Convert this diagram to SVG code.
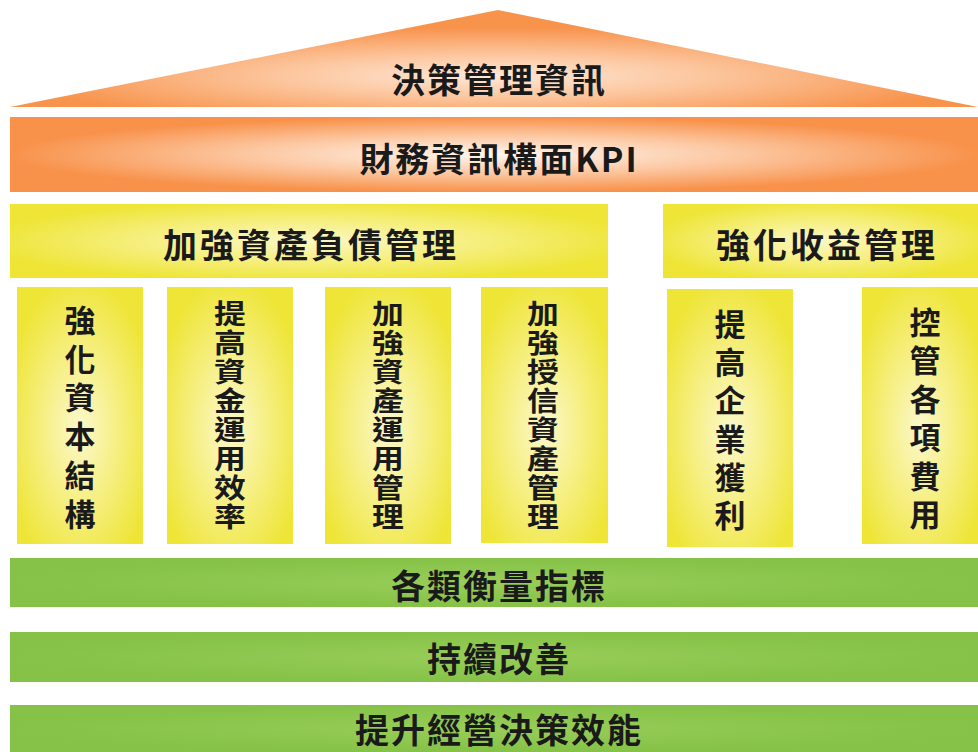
<svg xmlns="http://www.w3.org/2000/svg" width="978" height="752" viewBox="0 0 978 752">
<defs>
<radialGradient id="gRoof" cx="0.5" cy="0.68" r="0.5">
<stop offset="0" stop-color="#fee8d8"/>
<stop offset="0.45" stop-color="#fcc59c"/>
<stop offset="1" stop-color="#f8934c"/>
</radialGradient>
<radialGradient id="gOrange" cx="0.5" cy="0.5" r="0.5">
<stop offset="0" stop-color="#fff6ef"/>
<stop offset="0.5" stop-color="#fcc8a2"/>
<stop offset="1" stop-color="#f8924b"/>
</radialGradient>
<radialGradient id="gYellow" cx="0.5" cy="0.5" r="0.55">
<stop offset="0" stop-color="#fbf7c6"/>
<stop offset="0.55" stop-color="#f5ee78"/>
<stop offset="1" stop-color="#eee536"/>
</radialGradient>
<radialGradient id="gPillar" cx="0.5" cy="0.55" r="0.6">
<stop offset="0" stop-color="#fbf8cc"/>
<stop offset="0.5" stop-color="#f6ef82"/>
<stop offset="1" stop-color="#eee537"/>
</radialGradient>
<radialGradient id="gGreen" cx="0.5" cy="0.5" r="0.5">
<stop offset="0" stop-color="#98cd58"/>
<stop offset="1" stop-color="#85c247"/>
</radialGradient>
</defs>
<style>
text{font-family:"Noto Sans CJK TC","Noto Sans CJK SC",sans-serif;font-weight:700;fill:#1a1a1a;text-anchor:middle;dominant-baseline:central}
.big{font-size:34px;letter-spacing:2px}
.col{font-size:31px}
.tight{font-size:27px}
.roof{fill:url(#gRoof)}
.band{fill:url(#gOrange)}
.head{fill:url(#gYellow)}
.pillar{fill:url(#gPillar)}
.green{fill:url(#gGreen)}
</style>
<rect width="978" height="752" fill="#ffffff"/>
<g id="roof">
<polygon class="roof" points="10,107 498,10 978,107"/>
<text class="big" x="499" y="78">決策管理資訊</text>
</g>
<g id="kpi">
<rect class="band" x="10" y="117" width="968" height="75"/>
<text class="big" x="499" y="157">財務資訊構面KPI</text>
</g>
<g id="asset-liability">
<rect class="head" x="10" y="204" width="598" height="74"/>
<text class="big" x="311" y="243" style="letter-spacing:3px">加強資產負債管理</text>
</g>
<g id="revenue">
<rect class="head" x="663" y="204" width="315" height="74"/>
<text class="big" x="827" y="243" style="letter-spacing:3px">強化收益管理</text>
</g>
<g id="pillar1">
<rect class="pillar" x="17" y="287" width="126" height="257"/>
<text class="col"><tspan x="80" y="318">強</tspan><tspan x="80" y="357">化</tspan><tspan x="80" y="395">資</tspan><tspan x="80" y="434">本</tspan><tspan x="80" y="473">結</tspan><tspan x="80" y="512">構</tspan></text>
</g>
<g id="pillar2">
<rect class="pillar" x="167" y="287" width="126" height="257"/>
<g transform="translate(230,0) scale(1.18,1)">
<text class="tight"><tspan x="0" y="312">提</tspan><tspan x="0" y="341">高</tspan><tspan x="0" y="370">資</tspan><tspan x="0" y="399">金</tspan><tspan x="0" y="428">運</tspan><tspan x="0" y="457">用</tspan><tspan x="0" y="486">效</tspan><tspan x="0" y="515">率</tspan></text>
</g>
</g>
<g id="pillar3">
<rect class="pillar" x="325" y="287" width="126" height="257"/>
<g transform="translate(388,0) scale(1.18,1)">
<text class="tight"><tspan x="0" y="312">加</tspan><tspan x="0" y="341">強</tspan><tspan x="0" y="370">資</tspan><tspan x="0" y="399">產</tspan><tspan x="0" y="428">運</tspan><tspan x="0" y="457">用</tspan><tspan x="0" y="486">管</tspan><tspan x="0" y="515">理</tspan></text>
</g>
</g>
<g id="pillar4">
<rect class="pillar" x="481" y="287" width="127" height="256"/>
<g transform="translate(543,0) scale(1.18,1)">
<text class="tight"><tspan x="0" y="312">加</tspan><tspan x="0" y="341">強</tspan><tspan x="0" y="370">授</tspan><tspan x="0" y="399">信</tspan><tspan x="0" y="428">資</tspan><tspan x="0" y="457">產</tspan><tspan x="0" y="486">管</tspan><tspan x="0" y="515">理</tspan></text>
</g>
</g>
<g id="pillar5">
<rect class="pillar" x="667" y="289" width="126" height="258"/>
<text class="col"><tspan x="730" y="322">提</tspan><tspan x="730" y="360">高</tspan><tspan x="730" y="398">企</tspan><tspan x="730" y="437">業</tspan><tspan x="730" y="475">獲</tspan><tspan x="730" y="513">利</tspan></text>
</g>
<g id="pillar6">
<rect class="pillar" x="862" y="287" width="116" height="257"/>
<text class="col"><tspan x="925" y="320">控</tspan><tspan x="925" y="358">管</tspan><tspan x="925" y="397">各</tspan><tspan x="925" y="435">項</tspan><tspan x="925" y="474">費</tspan><tspan x="925" y="512">用</tspan></text>
</g>
<g id="measures">
<rect class="green" x="10" y="558" width="968" height="49"/>
<text class="big" x="499" y="584">各類衡量指標</text>
</g>
<g id="improve">
<rect class="green" x="10" y="632" width="968" height="50"/>
<text class="big" x="499" y="657">持續改善</text>
</g>
<g id="efficiency">
<rect class="green" x="10" y="705" width="968" height="47"/>
<text class="big" x="499" y="728">提升經營決策效能</text>
</g>
</svg>
